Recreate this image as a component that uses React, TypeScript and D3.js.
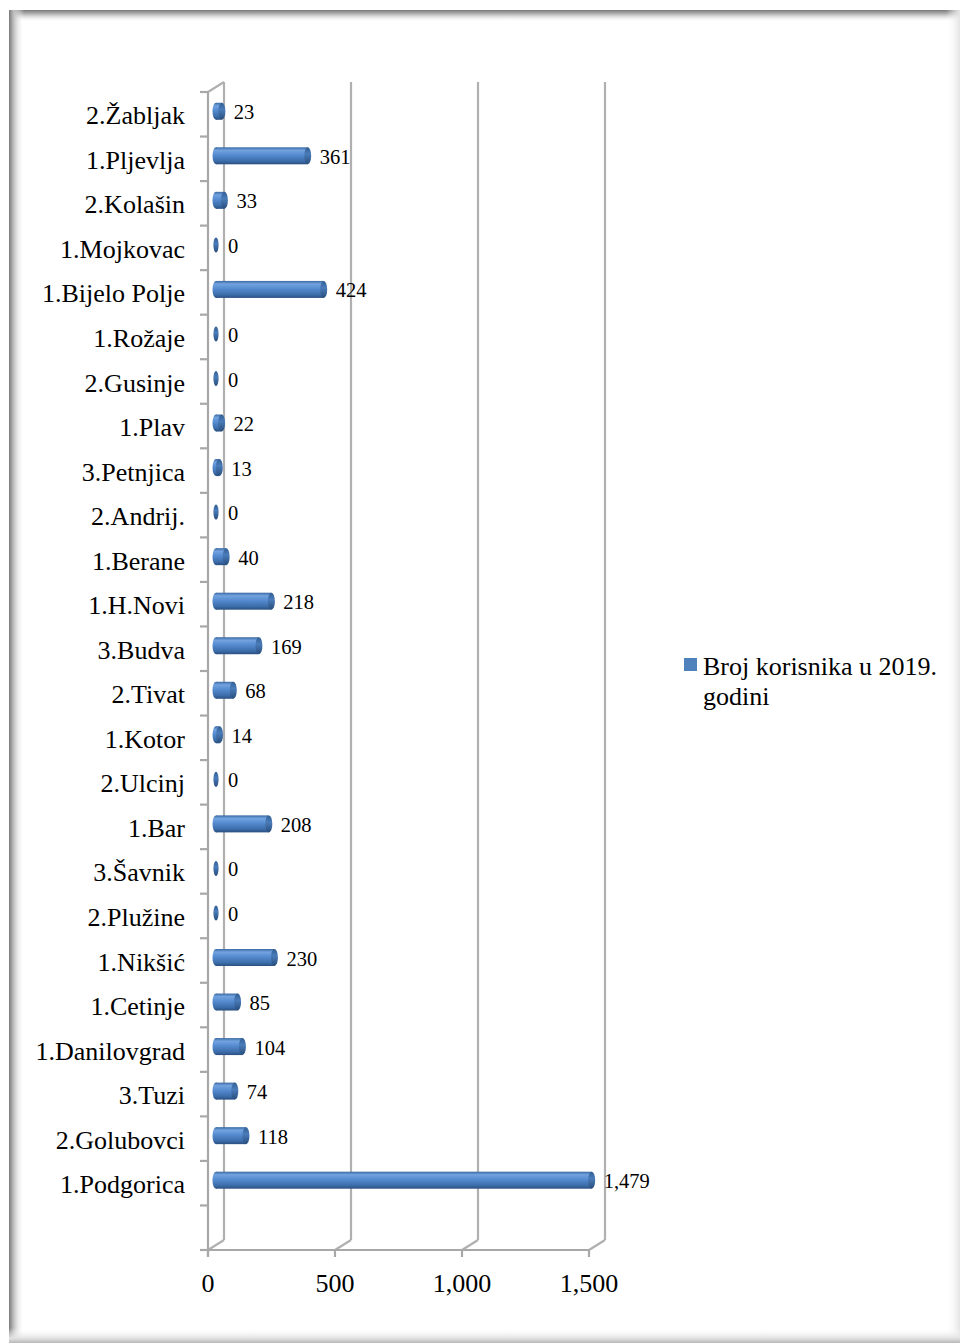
import React from "react";
import * as d3 from "d3";

const categories = [
  "2.Žabljak", "1.Pljevlja", "2.Kolašin", "1.Mojkovac", "1.Bijelo Polje", "1.Rožaje",
  "2.Gusinje", "1.Plav", "3.Petnjica", "2.Andrij.", "1.Berane", "1.H.Novi", "3.Budva",
  "2.Tivat", "1.Kotor", "2.Ulcinj", "1.Bar", "3.Šavnik", "2.Plužine", "1.Nikšić",
  "1.Cetinje", "1.Danilovgrad", "3.Tuzi", "2.Golubovci", "1.Podgorica",
];
const values = [23, 361, 33, 0, 424, 0, 0, 22, 13, 0, 40, 218, 169, 68, 14, 0, 208, 0, 0, 230, 85, 104, 74, 118, 1479];
const xTicks = [0, 500, 1000, 1500];
const seriesName = ["Broj korisnika u 2019.", "godini"];

const W = 960;
const H = 1343;
const FONT = "'Liberation Serif', 'Times New Roman', serif";
const DX = 16;
const DY = -10;
const BLUE = "#4f81bd";

export default function App() {
  const x = d3.scaleLinear().domain([0, 1500]).range([208, 589]);
  const slots = [...categories, "__blank__"];
  const y = d3.scaleBand<string>().domain(slots).range([92, 1250]).padding(0);
  const step = y.step();
  const yTop = 92;
  const yBot = 1250;
  const fmt = d3.format(",");
  const barH = 17;
  const barShift = -3;

  const boundaries = d3.range(slots.length + 1).map((i) => yTop + i * step);

  return (
    <svg width={W} height={H} style={{ position: "absolute", left: 0, top: 0, display: "block" }}>
      <defs>
        <linearGradient id="topSh" x1="0" y1="0" x2="0" y2="1">
          <stop offset="0" stopColor="#7a7a7a" />
          <stop offset="0.35" stopColor="#b8b8b8" />
          <stop offset="1" stopColor="#ffffff" stopOpacity="0" />
        </linearGradient>
        <linearGradient id="leftSh" x1="0" y1="0" x2="1" y2="0">
          <stop offset="0" stopColor="#7a7a7a" />
          <stop offset="0.3" stopColor="#bdbdbd" />
          <stop offset="1" stopColor="#ffffff" stopOpacity="0" />
        </linearGradient>
        <linearGradient id="rightSh" x1="0" y1="0" x2="1" y2="0">
          <stop offset="0" stopColor="#ffffff" stopOpacity="0" />
          <stop offset="1" stopColor="#e4e4e4" />
        </linearGradient>
        <linearGradient id="botSh" x1="0" y1="0" x2="0" y2="1">
          <stop offset="0" stopColor="#ffffff" stopOpacity="0" />
          <stop offset="0.7" stopColor="#e0e0e0" />
          <stop offset="1" stopColor="#b8b8b8" />
        </linearGradient>
        <linearGradient id="barG" x1="0" y1="0" x2="0" y2="1">
          <stop offset="0" stopColor="#3a69a3" />
          <stop offset="0.18" stopColor="#73a3df" />
          <stop offset="0.45" stopColor="#558bd0" />
          <stop offset="0.8" stopColor="#3d6eab" />
          <stop offset="1" stopColor="#2a4f80" />
        </linearGradient>
        <linearGradient id="capG" x1="0" y1="0" x2="0" y2="1">
          <stop offset="0" stopColor="#335f95" />
          <stop offset="0.4" stopColor="#4a7cb9" />
          <stop offset="1" stopColor="#284d7c" />
        </linearGradient>
      </defs>

      <rect x={0} y={0} width={W} height={H} fill="#ffffff" />
      {/* frame shadows */}
      <rect x={9} y={10} width={W - 9} height={12} fill="url(#topSh)" />
      <rect x={9} y={10} width={15} height={H - 10} fill="url(#leftSh)" />
      <rect x={946} y={10} width={14} height={H - 10} fill="url(#rightSh)" />
      <rect x={9} y={1328} width={W - 9} height={H - 1328} fill="url(#botSh)" />

      {/* back wall gridlines */}
      <g stroke="#b0b0b0" strokeWidth={2.2} fill="none">
        {xTicks.map((t) => (
          <g key={"g" + t}>
            <line x1={x(t) + DX} y1={yTop + DY} x2={x(t) + DX} y2={yBot + DY} />
            <line x1={x(t)} y1={yBot} x2={x(t) + DX} y2={yBot + DY} />
          </g>
        ))}
        <line x1={x(0)} y1={yTop} x2={x(0) + DX} y2={yTop + DY} />
      </g>

      {/* axes */}
      <g stroke="#a8a8a8" strokeWidth={2.2} fill="none">
        <line x1={x(0)} y1={yTop} x2={x(0)} y2={yBot + 7} />
        <line x1={x(0)} y1={yBot} x2={x(1500)} y2={yBot} />
        {boundaries.map((b, i) => (
          <line key={"yt" + i} x1={x(0) - 8} y1={b} x2={x(0)} y2={b} />
        ))}
        {xTicks.map((t) => (
          <line key={"xt" + t} x1={x(t)} y1={yBot} x2={x(t)} y2={yBot + 7} />
        ))}
      </g>

      {/* bars */}
      {categories.map((c, i) => {
        const v = values[i];
        const cy = (y(c) as number) + step / 2 + barShift;
        const x0 = x(0) + DX / 2;
        const x1 = x(v) + DX / 2;
        if (v === 0) {
          return (
            <ellipse key={c} cx={x0} cy={cy} rx={2.6} ry={7.5} fill="url(#capG)" />
          );
        }
        return (
          <g key={c}>
            <ellipse cx={x0} cy={cy} rx={3.5} ry={barH / 2} fill="url(#barG)" />
            <rect x={x0} y={cy - barH / 2} width={Math.max(0, x1 - x0)} height={barH} fill="url(#barG)" />
            <ellipse cx={x1} cy={cy} rx={3.5} ry={barH / 2} fill="url(#capG)" />
          </g>
        );
      })}

      {/* value labels */}
      <g fontFamily={FONT} fontSize={20.5} fill="#000">
        {categories.map((c, i) => {
          const v = values[i];
          const cy = (y(c) as number) + step / 2 + barShift;
          return (
            <text key={"v" + c} x={x(v) + DX / 2 + 12} y={cy + 8}>
              {fmt(v)}
            </text>
          );
        })}
      </g>

      {/* category labels */}
      <g fontFamily={FONT} fontSize={26} fill="#000" textAnchor="end">
        {categories.map((c) => (
          <text key={"c" + c} x={185} y={(y(c) as number) + step / 2 + 10}>
            {c}
          </text>
        ))}
      </g>

      {/* x tick labels */}
      <g fontFamily={FONT} fontSize={26} fill="#000" textAnchor="middle">
        {xTicks.map((t) => (
          <text key={"xl" + t} x={x(t)} y={1292}>
            {fmt(t)}
          </text>
        ))}
      </g>

      {/* legend */}
      <rect x={684} y={658} width={13} height={13} fill={BLUE} />
      <g fontFamily={FONT} fontSize={26} fill="#000">
        <text x={703} y={675}>{seriesName[0]}</text>
        <text x={703} y={705}>{seriesName[1]}</text>
      </g>
    </svg>
  );
}
